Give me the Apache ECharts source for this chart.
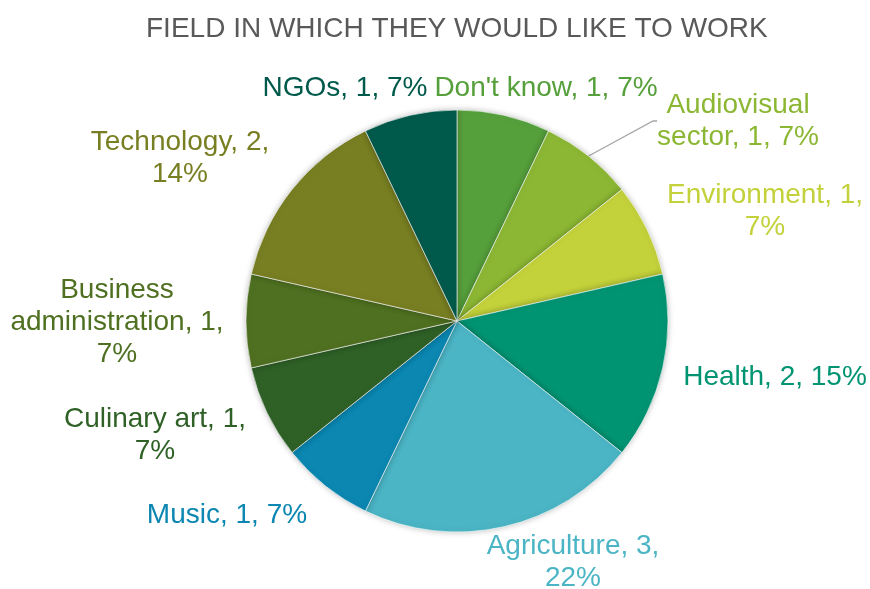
<!DOCTYPE html>
<html>
<head>
<meta charset="utf-8">
<script src="https://cdn.jsdelivr.net/npm/echarts@6/dist/echarts.min.js"></script>
<style>html,body{margin:0;padding:0;background:#fff}#c{width:870px;height:589px}</style>
</head>
<body>
<div id="c"></div>
<script>
const CATEGORIES = ["Don't know", "Audiovisual sector", "Environment", "Health", "Agriculture", "Music", "Culinary art", "Business administration", "Technology", "NGOs"];
const VALUES = [1, 1, 1, 2, 3, 1, 1, 1, 2, 1];
const PERCENT_LABELS = ["7%", "7%", "7%", "15%", "22%", "7%", "7%", "7%", "14%", "7%"];
const LABEL_TEMPLATES = [
  "{n}, {v}, {p}",
  "Audiovisual\nsector, {v}, {p}",
  "{n}, {v},\n{p}",
  "{n}, {v}, {p}",
  "{n}, {v},\n{p}",
  "{n}, {v}, {p}",
  "{n}, {v},\n{p}",
  "Business\nadministration, {v},\n{p}",
  "{n}, {v},\n{p}",
  "{n}, {v}, {p}"
];
const COLORS = ["#56a03c", "#8cb734", "#c3d13b", "#009472", "#4bb5c5", "#0b87b1", "#2f6127", "#4f7021", "#787e22", "#005a4b"];
const LABEL_POS = [
  [546, 88], [738, 121], [765, 211], [775, 377], [573, 562],
  [227, 515], [155, 435], [117, 322], [180, 158], [345, 88]
];

const chart = echarts.init(document.getElementById('c'), null, {renderer: 'canvas'});
chart.setOption({
  animation: false,
  title: {
    text: 'FIELD IN WHICH THEY WOULD LIKE TO WORK',
    left: 141, top: 10,
    textStyle: {fontFamily: 'Liberation Sans', fontSize: 28, fontWeight: 'normal', color: '#595959'}
  },
  series: [{
    type: 'pie',
    center: [457, 321],
    radius: 211,
    startAngle: 90,
    clockwise: true,
    itemStyle: {borderColor: '#ffffff', borderWidth: 0.6, shadowBlur: 6, shadowColor: 'rgba(0,0,0,0.25)'},
    emphasis: {disabled: true},
    label: {
      show: true,
      position: 'outside',
      overflow: 'none',
      fontFamily: 'Liberation Sans',
      fontSize: 28,
      lineHeight: 32,
      align: 'center',
      formatter: p => LABEL_TEMPLATES[p.dataIndex]
        .replace('{n}', CATEGORIES[p.dataIndex])
        .replace('{v}', VALUES[p.dataIndex])
        .replace('{p}', PERCENT_LABELS[p.dataIndex])
    },
    labelLine: {show: false},
    labelLayout: p => ({x: LABEL_POS[p.dataIndex][0], y: LABEL_POS[p.dataIndex][1], align: 'center', verticalAlign: 'middle'}),
    data: CATEGORIES.map((n, i) => ({
      name: n,
      value: VALUES[i],
      itemStyle: {color: COLORS[i]},
      label: {color: COLORS[i]},
      labelLine: i === 1 ? {show: true, length: 10, length2: 4, lineStyle: {color: '#a6a6a6', width: 1.3}} : {show: false}
    }))
  }]
});
</script>
</body>
</html>
